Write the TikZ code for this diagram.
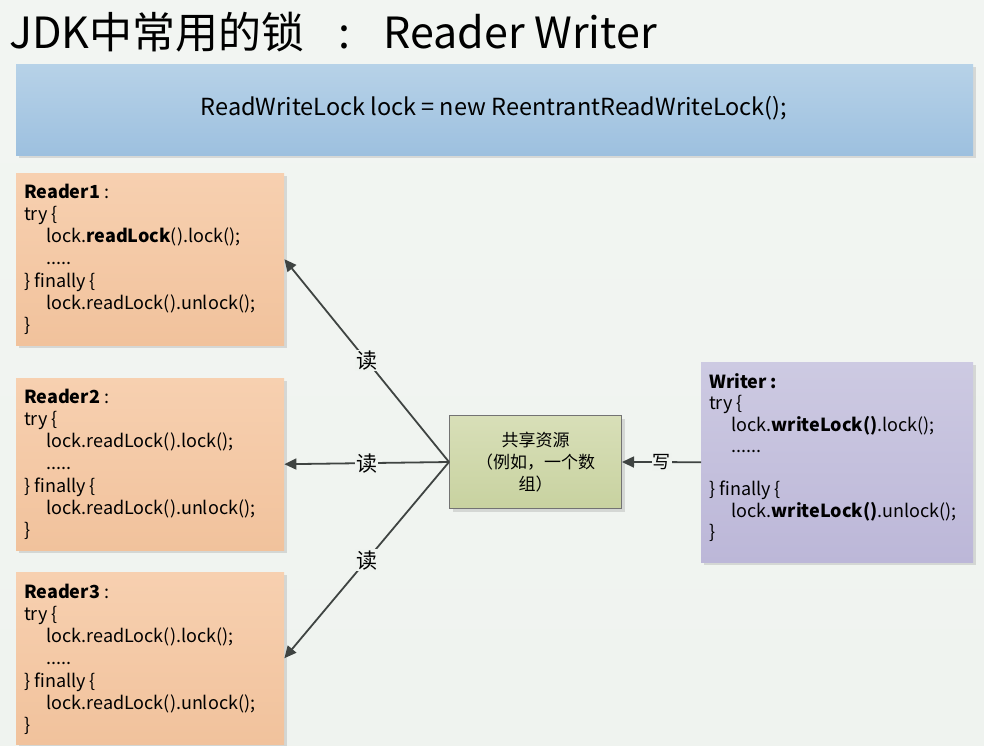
\documentclass[tikz,border=0pt]{standalone}
\usepackage{fontspec}
\setmainfont{Noto Sans CJK SC}
\usetikzlibrary{arrows.meta,shadows,shadings}
\definecolor{bgc}{HTML}{EFF3EF}
\definecolor{bluetop}{HTML}{B7D2E8}
\definecolor{bluebot}{HTML}{9DC0DF}
\definecolor{peachtop}{HTML}{F7D0B0}
\definecolor{peachbot}{HTML}{F1C29C}
\definecolor{lavtop}{HTML}{CDCAE2}
\definecolor{lavbot}{HTML}{BCB7D8}
\definecolor{oltop}{HTML}{D8DFB8}
\definecolor{olbot}{HTML}{C8D2A0}
\definecolor{arr}{HTML}{3F4442}
\tikzset{
  x=1pt, y=-1pt,
  boxshadow/.style={drop shadow={shadow xshift=3pt, shadow yshift=-3pt, opacity=0.2, fill=black!60}},
  bluebox/.style={rectangle, inner sep=0, anchor=north west, top color=bluetop, bottom color=bluebot, boxshadow},
  readerbox/.style={rectangle, inner sep=0, anchor=north west, top color=peachtop, bottom color=peachbot, minimum width=268pt, minimum height=172pt, boxshadow},
  writerbox/.style={rectangle, inner sep=0, anchor=north west, top color=lavtop, bottom color=lavbot, minimum width=272pt, minimum height=200pt, boxshadow},
  resbox/.style={rectangle, inner sep=0, anchor=north west, top color=oltop, bottom color=olbot, draw=black!55, line width=1pt, minimum width=172pt, minimum height=93pt, boxshadow},
  codetext/.style={anchor=base west, inner sep=0, font=\fontsize{18pt}{22pt}\selectfont},
  link/.style={draw=arr, line width=1.8pt, -{Triangle[length=12pt,width=11pt]}},
  lbl/.style={fill=bgc, inner sep=1pt, font=\fontsize{21pt}{24pt}\selectfont},
}
\newcommand{\ind}{\hspace*{22pt}}
\newcommand{\codelines}[2]{\vtop{\baselineskip=#1\lineskiplimit=-20pt #2}}
\begin{document}
\begin{tikzpicture}
\useasboundingbox (0,0) rectangle (984,745);
\shade[top color=bgc!80!white, bottom color=bgc] (0,0) rectangle (984,745);
% title
\node[anchor=base west, inner sep=0, font=\fontsize{43pt}{46pt}\selectfont] (title) at (9,48) {JDK中常用的锁\hspace{34pt}:\hspace{33pt}Reader Writer};
% blue box
\node[bluebox, minimum width=957pt, minimum height=91pt] (top) at (16,64) {};
\node[anchor=base, inner sep=0, font=\fontsize{23.5pt}{26pt}\selectfont] (toptext) at (494,115) {ReadWriteLock lock = new ReentrantReadWriteLock();};
% readers
\node[readerbox] (r1) at (16,173) {};
\node[readerbox] (r2) at (16,378) {};
\node[readerbox] (r3) at (16,572) {};
\node[codetext] (r1t) at (24,198) {\codelines{22.3pt}{\hbox{\textbf{Reader1} :}\hbox{try \{}\hbox{\ind lock.\textbf{readLock}().lock();}\hbox{\ind .....}\hbox{\} finally \{}\hbox{\ind lock.readLock().unlock();}\hbox{\}}}};
\node[codetext] (r2t) at (24,403) {\codelines{22.3pt}{\hbox{\textbf{Reader2} :}\hbox{try \{}\hbox{\ind lock.readLock().lock();}\hbox{\ind .....}\hbox{\} finally \{}\hbox{\ind lock.readLock().unlock();}\hbox{\}}}};
\node[codetext] (r3t) at (24,598) {\codelines{22.3pt}{\hbox{\textbf{Reader3} :}\hbox{try \{}\hbox{\ind lock.readLock().lock();}\hbox{\ind .....}\hbox{\} finally \{}\hbox{\ind lock.readLock().unlock();}\hbox{\}}}};
% writer
\node[writerbox] (w) at (701,362) {};
\node[codetext] (wt) at (709,388) {\codelines{21.5pt}{\hbox{\textbf{Writer :}}\hbox{try \{}\hbox{\ind lock.\textbf{writeLock()}.lock();}\hbox{\ind ......}\hbox{}\hbox{\} finally \{}\hbox{\ind lock.\textbf{writeLock()}.unlock();}\hbox{\}}}};
% resource
\node[resbox] (res) at (449,415) {};
\node[inner sep=0, align=center, font=\fontsize{17pt}{22pt}\selectfont] (rest) at (res.center) {共享资源\\（例如，一个数\\组）};
% connectors
\draw[link] (res.west) -- node[lbl, pos=0.5] (l1) {读} (r1.east);
\draw[link] (res.west) -- node[lbl, pos=0.5] (l2) {读} (r2.east);
\draw[link] (res.west) -- node[lbl, pos=0.5] (l3) {读} (r3.east);
\draw[link] (w.west) -- node[lbl, pos=0.5, font=\fontsize{18pt}{20pt}\selectfont] (l4) {写} (res.east);
\end{tikzpicture}
\end{document}
